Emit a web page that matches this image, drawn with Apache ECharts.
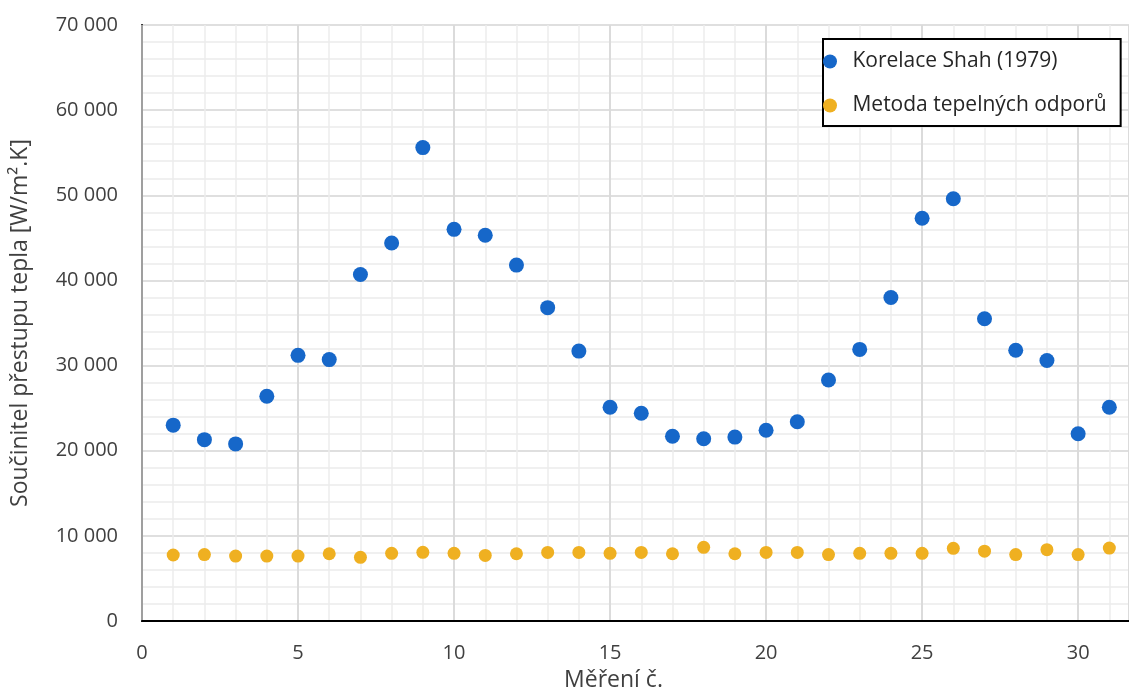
<!DOCTYPE html>
<html><head><meta charset="utf-8">
<script src="https://cdn.jsdelivr.net/npm/echarts@6/dist/echarts.min.js"></script>
<style>html,body{margin:0;padding:0;background:#fff}#c{width:1129px;height:697px}</style>
</head><body><div id="c"></div>
<script>
const measurements = [1,2,3,4,5,6,7,8,9,10,11,12,13,14,15,16,17,18,19,20,21,22,23,24,25,26,27,28,29,30,31];
const shah = [23000,21300,20800,26400,31200,30700,40700,44400,55600,46000,45300,41800,36800,31700,25100,24400,21700,21400,21600,22400,23400,28300,31900,38000,47300,49600,35500,31800,30600,22000,25100];
const resist = [7750,7800,7630,7630,7630,7900,7480,7950,8060,7950,7700,7900,8050,8050,7950,8050,7900,8650,7900,8050,8050,7800,7950,7950,7950,8530,8200,7800,8380,7800,8570];
const seriesNames = ['Korelace Shah (1979)','Metoda tepelných odporů'];
const xTitle = 'Měření č.';
const yTitle = 'Součinitel přestupu tepla [W/m\u00B2.K]';
const xMax = 31.63;

const font = '"Open Sans", sans-serif';
const txt = '#404040';
const chart = echarts.init(document.getElementById('c'));
chart.setOption({
  animation:false,
  textStyle:{fontFamily:font},
  grid:{left:142, top:25, bottom:73, right:0},
  legend:{
    orient:'vertical', left:823, top:39,
    backgroundColor:'#fff', borderColor:'#000', borderWidth:2,
    padding:[12,14,10,0], itemGap:23, itemWidth:24, itemHeight:14,
    icon:'circle',
    formatter:n=>' '+n,
    textStyle:{fontSize:21, lineHeight:20, color:'#262626', fontFamily:font},
    data:seriesNames
  },
  xAxis:[{
    type:'value', min:0, max:xMax, interval:1, position:'bottom',
    axisLine:{show:false}, axisTick:{show:false}, axisLabel:{show:false},
    splitLine:{show:true, lineStyle:{color:'#ececec', width:1.5}}
  },{
    type:'value', min:0, max:xMax, interval:5, z:1, position:'bottom',
    name:xTitle, nameLocation:'middle', nameGap:48,
    nameTextStyle:{fontSize:23, color:txt, padding:[0,44,0,0]},
    axisLine:{show:true, onZero:false, lineStyle:{color:'#000', width:2}},
    axisTick:{show:false},
    axisLabel:{fontSize:20, color:txt, margin:22, showMaxLabel:false},
    splitLine:{show:true, lineStyle:{color:'#d4d4d4', width:1.5}}
  }],
  yAxis:{
    type:'value', min:0, max:70000, interval:10000,
    name:yTitle, nameLocation:'middle', nameGap:110,
    nameTextStyle:{fontSize:23, color:txt},
    axisLine:{show:true, onZero:false, lineStyle:{color:'#000', width:2}},
    axisTick:{show:false},
    axisLabel:{fontSize:20, color:txt, margin:24,
      formatter:v=>String(v).replace(/\B(?=(\d{3})+(?!\d))/g,' ')},
    splitLine:{show:true, lineStyle:{color:'#d4d4d4', width:1.5}},
    minorTick:{show:false, splitNumber:5},
    minorSplitLine:{show:true, lineStyle:{color:'#ececec', width:1.5}}
  },
  series:[
    {name:seriesNames[0], type:'scatter', symbolSize:15, xAxisIndex:1,
     itemStyle:{color:'#1667c9', opacity:1},
     data:measurements.map((m,i)=>[m,shah[i]])},
    {name:seriesNames[1], type:'scatter', symbolSize:13, xAxisIndex:1,
     itemStyle:{color:'#efb021', opacity:1},
     data:measurements.map((m,i)=>[m,resist[i]])}
  ]
});
</script></body></html>
